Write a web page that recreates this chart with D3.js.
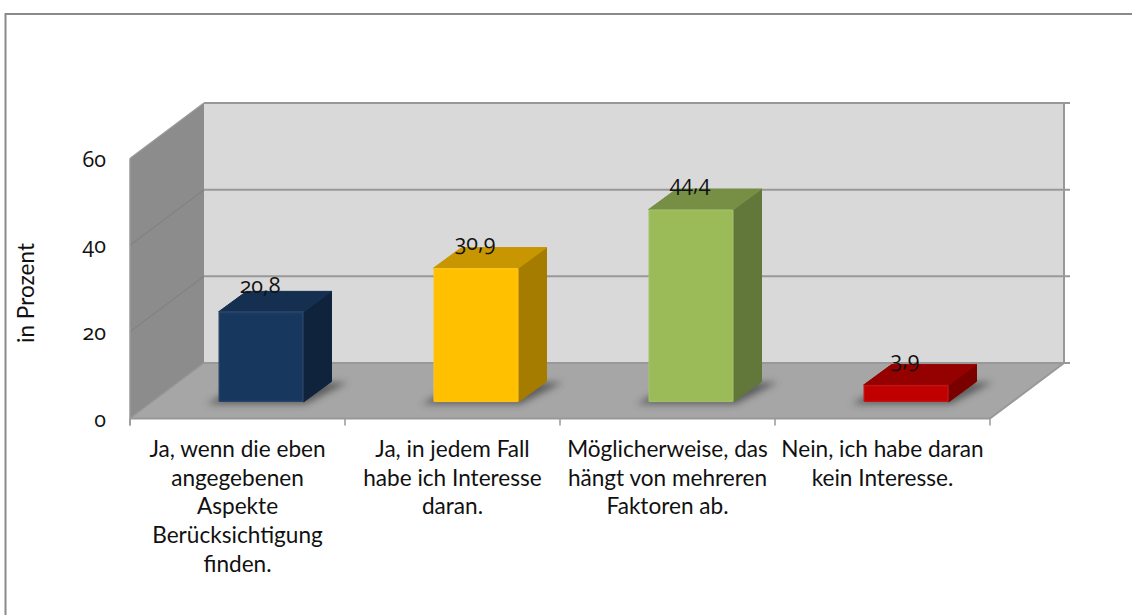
<!DOCTYPE html>
<html>
<head>
<meta charset="utf-8">
<style>
html, body { margin: 0; padding: 0; background: #fff; overflow: hidden; }
svg { display: block; }
text { font-family: Lato, sans-serif; fill: #111; font-feature-settings: "onum"; }
.num { font-family: "Open Sans", sans-serif; }
</style>
<script src="https://cdnjs.cloudflare.com/ajax/libs/d3/7.8.5/d3.min.js"></script>
</head>
<body>
<div id="chart"></div>
<script>
const categories = [
    ['Ja, wenn die eben', 'angegebenen', 'Aspekte', 'Berücksichtigung', 'finden.'],
    ['Ja, in jedem Fall', 'habe ich Interesse', 'daran.'],
    ['Möglicherweise, das', 'hängt von mehreren', 'Faktoren ab.'],
    ['Nein, ich habe daran', 'kein Interesse.'],
];
const values = [20.8, 30.9, 44.4, 3.9];
const valueLabels = ['20,8', '30,9', '44,4', '3,9'];
const yTicks = [0, 20, 40, 60];
const axisTitle = 'in Prozent';

// front, top and side colours per bar
const barColors = [
    { front: '#17375e', top: '#142f50', side: '#10233c' },
    { front: '#ffc000', top: '#c79600', side: '#a57c00' },
    { front: '#9bbb59', top: '#778f44', side: '#62773a' },
    { front: '#c00000', top: '#950000', side: '#7a0000' },
];

const width = 1132, height = 615;
const DEPTH = { x: 74, y: -55.5 };       // floor depth of the 3d box
const BAR_DEPTH = { x: 28, y: -20.5 };   // depth of one bar
const BAR_OFFSET = { x: 23.5, y: -16.5 };  // bars stand a bit back on the floor
const BAR_WIDTH = 85;
const AXIS = '#989898';
const FONT_SIZE = 22.6;
const NUM_SIZE = 21.5;

const x = d3.scaleBand().domain(d3.range(categories.length)).range([130, 990]);
const y = d3.scaleLinear().domain([0, 60]).range([418.5, 158.5]);

const svg = d3.select('#chart').append('svg')
    .attr('width', width).attr('height', height);

const defs = svg.append('defs');
defs.append('filter').attr('id', 'soft')
    .attr('x', '-20%').attr('y', '-50%').attr('width', '140%').attr('height', '200%')
    .append('feGaussianBlur').attr('stdDeviation', 3.5);

const poly = (pts) => pts.map((p) => p.join(',')).join(' ');

// chart frame, only top and left are in view
svg.append('path')
    .attr('d', `M5.5,${height} V14 H${width}`)
    .attr('fill', 'none').attr('stroke', '#8a8a8a').attr('stroke-width', 2);

// walls + floor
const x0 = x.range()[0], x1 = x.range()[1];
const y0 = y(0), yTop = y(60);
const walls = svg.append('g').attr('class', 'walls');

walls.append('polygon')
    .attr('points', poly([[x0 + DEPTH.x, yTop + DEPTH.y], [x1 + DEPTH.x, yTop + DEPTH.y], [x1 + DEPTH.x, y0 + DEPTH.y], [x0 + DEPTH.x, y0 + DEPTH.y]]))
    .attr('fill', '#d9d9d9');
walls.append('polygon')
    .attr('points', poly([[x0, yTop], [x0 + DEPTH.x, yTop + DEPTH.y], [x0 + DEPTH.x, y0 + DEPTH.y], [x0, y0]]))
    .attr('fill', '#8c8c8c');
walls.append('polygon')
    .attr('points', poly([[x0, y0], [x0 + DEPTH.x, y0 + DEPTH.y], [x1 + DEPTH.x, y0 + DEPTH.y], [x1, y0]]))
    .attr('fill', '#a6a6a6');

// gridlines: back wall + fainter on the side wall
const grid = svg.append('g').attr('class', 'grid');
yTicks.forEach((t) => {
    const py = y(t);
    grid.append('line')
        .attr('x1', x0).attr('y1', py).attr('x2', x0 + DEPTH.x).attr('y2', py + DEPTH.y)
        .attr('stroke', t === 60 || t === 0 ? AXIS : '#828282').attr('stroke-width', t === 0 || t === 60 ? 1.5 : 1.2);
    grid.append('line')
        .attr('x1', x0 + DEPTH.x).attr('y1', py + DEPTH.y).attr('x2', x1 + DEPTH.x + 6).attr('y2', py + DEPTH.y)
        .attr('stroke', AXIS).attr('stroke-width', 2);
});

// box edges
const edges = svg.append('g').attr('class', 'edges')
    .attr('fill', 'none').attr('stroke', AXIS).attr('stroke-width', 2);
edges.append('line').attr('x1', x1 + DEPTH.x).attr('y1', yTop + DEPTH.y - 1).attr('x2', x1 + DEPTH.x).attr('y2', y0 + DEPTH.y);
edges.append('line').attr('x1', x1).attr('y1', y0).attr('x2', x1 + DEPTH.x).attr('y2', y0 + DEPTH.y);
edges.append('line').attr('x1', x0).attr('y1', y0).attr('x2', x1).attr('y2', y0);
edges.append('line').attr('x1', x0).attr('y1', yTop).attr('x2', x0).attr('y2', y0 + 7).attr('stroke-width', 1.5);

// category ticks
d3.range(categories.length + 1).forEach((i) => {
    const px = i < categories.length ? x(i) : x1;
    edges.append('line').attr('x1', px).attr('y1', y0).attr('x2', px).attr('y2', y0 + 7).attr('stroke-width', 1.5);
});

// y labels
svg.append('g').selectAll('text').data(yTicks).enter().append('text')
    .attr('class', 'num')
    .attr('x', 106).attr('y', (d) => y(d) + 8)
    .attr('text-anchor', 'end').attr('font-size', NUM_SIZE)
    .text((d) => d);

svg.append('text')
    .attr('transform', 'translate(34,293) rotate(-90)')
    .attr('text-anchor', 'middle').attr('font-size', FONT_SIZE)
    .text(axisTitle);

// bars
const bars = svg.append('g').attr('class', 'bars').selectAll('g')
    .data(values).enter().append('g');

bars.each(function (v, i) {
    const g = d3.select(this);
    const c = barColors[i];
    const left = x(i) + x.bandwidth() / 2 + BAR_OFFSET.x - BAR_WIDTH / 2;
    const right = left + BAR_WIDTH;
    const bottom = y(0) + BAR_OFFSET.y;
    const top = y(v) + BAR_OFFSET.y;

    // floor shadow
    g.append('polygon')
        .attr('points', poly([[left - 12, bottom + 2], [right + 2, bottom + 2], [right + BAR_DEPTH.x + 16, bottom + BAR_DEPTH.y + 1], [left + BAR_DEPTH.x, bottom + BAR_DEPTH.y + 1]]))
        .attr('fill', '#444').attr('opacity', 0.75).attr('filter', 'url(#soft)');

    g.append('polygon')
        .attr('points', poly([[right, top], [right + BAR_DEPTH.x, top + BAR_DEPTH.y], [right + BAR_DEPTH.x, bottom + BAR_DEPTH.y], [right, bottom]]))
        .attr('fill', c.side).attr('stroke', c.side).attr('stroke-linejoin', 'round');
    g.append('polygon')
        .attr('points', poly([[left, top], [left + BAR_DEPTH.x, top + BAR_DEPTH.y], [right + BAR_DEPTH.x, top + BAR_DEPTH.y], [right, top]]))
        .attr('fill', c.top).attr('stroke', c.top).attr('stroke-linejoin', 'round');
    g.append('rect')
        .attr('x', left).attr('y', top)
        .attr('width', BAR_WIDTH).attr('height', bottom - top)
        .attr('rx', 1.5)
        .attr('fill', c.front);

    // soft bevel along the front face edges
    g.append('rect')
        .attr('x', left + 0.5).attr('y', top + 0.5)
        .attr('width', BAR_WIDTH - 1).attr('height', bottom - top - 1)
        .attr('fill', 'none').attr('stroke', '#fff').attr('stroke-opacity', 0.06).attr('stroke-width', 2);

    // value label sits on the back edge of the bar top
    g.append('text')
        .attr('class', 'num')
        .attr('x', left + BAR_WIDTH / 2 - 1)
        .attr('y', top + BAR_DEPTH.y + 2)
        .attr('text-anchor', 'middle').attr('font-size', NUM_SIZE)
        .text(valueLabels[i]);
});

// category labels
const labels = svg.append('g').attr('class', 'cat-labels');
categories.forEach((lines, i) => {
    const t = labels.append('text')
        .attr('text-anchor', 'middle').attr('font-size', FONT_SIZE);
    lines.forEach((line, k) => {
        t.append('tspan')
            .attr('x', x(i) + x.bandwidth() / 2)
            .attr('y', 457 + k * 28.7)
            .text(line);
    });
});
</script>
</body>
</html>
